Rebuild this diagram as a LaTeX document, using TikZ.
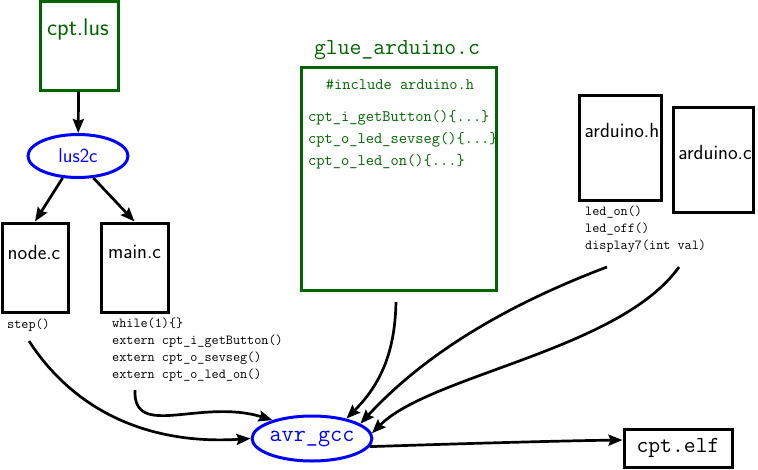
\documentclass[tikz,border=0pt]{standalone}
\usetikzlibrary{arrows.meta,shapes.geometric}
\definecolor{dg}{RGB}{0,100,0}
\definecolor{bl}{RGB}{0,0,255}
\begin{document}
\begin{tikzpicture}[x=1pt,y=-1pt,
  box/.style={draw, line width=3pt, inner sep=0pt},
  gbox/.style={box, draw=dg},
  oval/.style={draw=bl, ellipse, line width=3pt, text=bl, inner sep=0pt},
  conn/.style={line width=2.7pt, -{Stealth[length=14pt,width=11pt,inset=2pt]}},
  sftxt/.style={font=\fontsize{20.5}{24}\selectfont\sffamily, inner sep=0pt},
  code/.style={font=\fontsize{13.8}{16.8}\selectfont\ttfamily, align=left, inner sep=0pt},
  gcode/.style={font=\fontsize{16}{22}\selectfont\ttfamily, align=left, inner sep=0pt, text=dg}
]
\useasboundingbox (0,0) rectangle (758,469);

% cpt.lus
\node[gbox, minimum width=78pt, minimum height=89pt] (lus) at (79,45.5) {};
\node[sftxt, text=dg, font=\fontsize{24}{28}\selectfont\sffamily] (lustxt) at (78,30) {cpt.lus};

% lus2c
\node[oval, minimum width=100pt, minimum height=43pt, font=\fontsize{20}{24}\selectfont\sffamily] (lus2c) at (78,156) {lus2c};

% node.c / main.c
\node[box, minimum width=66pt, minimum height=89pt] (nodec) at (35,267.5) {};
\node[sftxt] (nodectxt) at (34,252) {node.c};
\node[box, minimum width=67pt, minimum height=89pt] (mainc) at (134.5,267.5) {};
\node[sftxt] (mainctxt) at (134.5,252) {main.c};

\node[code, anchor=west] (steptxt) at (7,325) {step()};
\node[code, anchor=north west] (maintxt) at (112,318) {while(1)\{\}\\extern cpt\_i\_getButton()\\extern cpt\_o\_sevseg()\\extern cpt\_o\_led\_on()};

% glue
\node[font=\fontsize{23}{26}\selectfont\ttfamily, text=dg, inner sep=0pt] (gluetitle) at (397,50) {glue\_arduino.c};
\node[gbox, minimum width=195pt, minimum height=223pt] (glue) at (398.5,178.5) {};
\node[gcode] (glueinc) at (400,85) {\#include arduino.h};
\node[gcode, anchor=north west] (gluefun) at (308,110) {cpt\_i\_getButton()\{...\}\\cpt\_o\_led\_sevseg()\{...\}\\cpt\_o\_led\_on()\{...\}};

% arduino
\node[box, minimum width=82pt, minimum height=105pt] (ah) at (620,147.5) {};
\node[sftxt] (ahtxt) at (622,130) {arduino.h};
\node[box, minimum width=80pt, minimum height=105pt] (ac) at (713,159.5) {};
\node[sftxt] (actxt) at (715,152) {arduino.c};
\node[code, anchor=north west, font=\fontsize{13.8}{17}\selectfont\ttfamily] (ahfun) at (585,206) {led\_on()\\led\_off()\\display7(int val)};

% avr_gcc and output
\node[oval, minimum width=112pt, minimum height=45pt, font=\fontsize{23.5}{26}\selectfont\ttfamily] (avr) at (312,438.5) {avr\_gcc};
\node[box, minimum width=108pt, minimum height=38pt, font=\fontsize{23}{26}\selectfont\ttfamily] (elf) at (678,448) {cpt.elf};

% connectors
\draw[conn] (lus) -- (lus2c);
\draw[conn] (lus2c.-125) -- (nodec.north);
\draw[conn] (lus2c.-55) -- (mainc.north);

\coordinate (s1) at (29,341);
\coordinate (s2) at (135,390);
\coordinate (s3) at (396,302);
\coordinate (s4) at (607,267);
\coordinate (s5) at (679,267);

\draw[conn] (s1) .. controls (75,412) and (150,445) .. (avr.180);
\draw[conn] (s2) .. controls (133,440) and (200,398) .. (avr.155);
\draw[conn] (s3) .. controls (395,345) and (385,380) .. (avr.30);
\draw[conn] (s4) .. controls (480,315) and (410,370) .. (avr.17);
\draw[conn] (s5) .. controls (620,350) and (430,375) .. (avr.5);
\draw[conn] (avr.-8) .. controls (450,444) and (550,441) .. ([yshift=8pt]elf.west);
\end{tikzpicture}
\end{document}
